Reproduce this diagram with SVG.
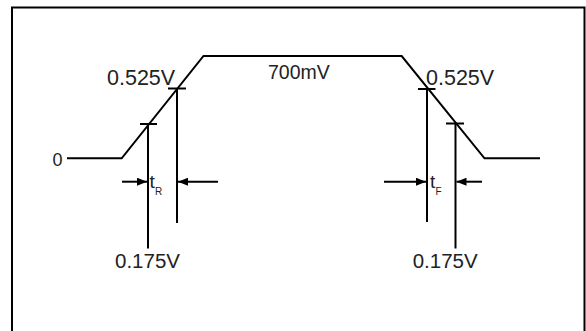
<svg xmlns="http://www.w3.org/2000/svg" width="586" height="331" viewBox="0 0 586 331">
<style>
.ln{stroke:#000;stroke-width:2;fill:none}
.lbl{font-family:"Liberation Sans",Arial,sans-serif;fill:#222}
</style>
<defs>
<marker id="ah" viewBox="0 0 10 8" refX="10" refY="4" markerWidth="10" markerHeight="8" markerUnits="userSpaceOnUse" orient="auto">
<path d="M0,0 L10,4 L0,8 Z" fill="#000"/>
</marker>
</defs>
<rect width="586" height="331" fill="#fff"/>
<g id="frame">
<path d="M12,340 L12,7.5 L584.5,7.5 L584.5,340" fill="none" stroke="#000" stroke-width="2"/>
</g>
<g id="waveform">
<polyline class="ln" points="67,158.3 121.7,158.3 203.5,56 401.7,56 484.5,158.3 540,158.3"/>
</g>
<g id="connectors">
<line class="ln" x1="148" y1="124" x2="148" y2="248.5"/>
<line class="ln" x1="177" y1="88.5" x2="177" y2="223"/>
<line class="ln" x1="427" y1="89" x2="427" y2="222"/>
<line class="ln" x1="455.5" y1="123.5" x2="455.5" y2="248.5"/>
<line class="ln" x1="140" y1="124" x2="157" y2="124"/>
<line class="ln" x1="168" y1="88.5" x2="186" y2="88.5"/>
<line class="ln" x1="418" y1="89" x2="435.5" y2="89"/>
<line class="ln" x1="446" y1="123.5" x2="464" y2="123.5"/>
<line class="ln" x1="122" y1="181.7" x2="147" y2="181.7" marker-end="url(#ah)"/>
<line class="ln" x1="218" y1="181.7" x2="178" y2="181.7" marker-end="url(#ah)"/>
<line class="ln" x1="384" y1="181.7" x2="426" y2="181.7" marker-end="url(#ah)"/>
<line class="ln" x1="482" y1="181.7" x2="456.5" y2="181.7" marker-end="url(#ah)"/>
</g>
<g id="labels">
<text class="lbl" x="52.5" y="166" font-size="18">0</text>
<text class="lbl" x="107" y="84.5" font-size="21.5">0.525V</text>
<text class="lbl" x="426" y="84.5" font-size="21.5">0.525V</text>
<text class="lbl" x="268" y="78.5" font-size="19.5">700mV</text>
<text class="lbl" x="149.5" y="188.3" font-size="19">t</text>
<text class="lbl" x="155" y="195" font-size="10">R</text>
<text class="lbl" x="430" y="188.3" font-size="19">t</text>
<text class="lbl" x="435.5" y="195" font-size="10">F</text>
<text class="lbl" x="115" y="267.5" font-size="20.5">0.175V</text>
<text class="lbl" x="412.7" y="268" font-size="20.5">0.175V</text>
</g>
</svg>
